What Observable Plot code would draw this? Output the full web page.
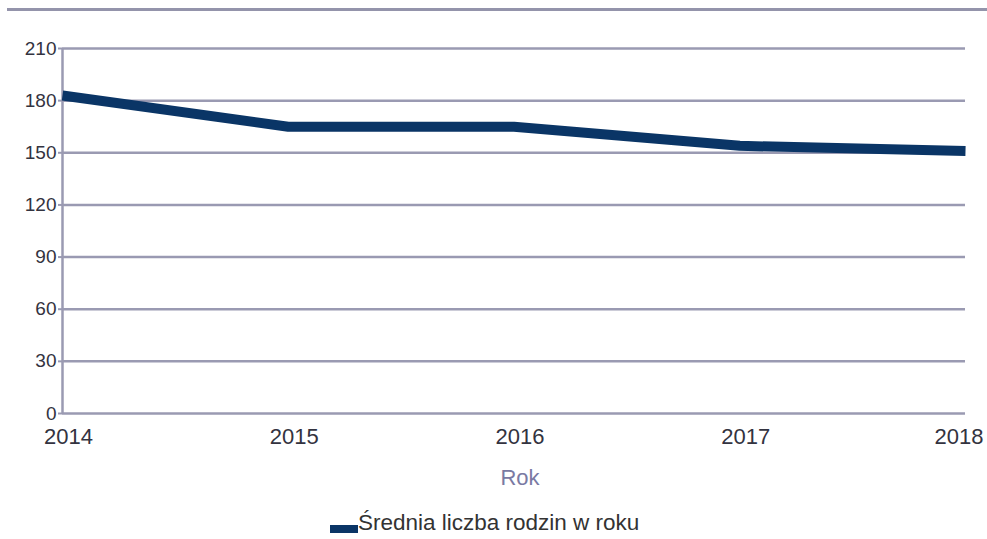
<!DOCTYPE html>
<html>
<head>
<meta charset="utf-8">
<script src="https://cdn.jsdelivr.net/npm/d3@7"></script>
<script src="https://cdn.jsdelivr.net/npm/@observablehq/plot@0.6"></script>
<style>
  html, body { margin: 0; padding: 0; background: #fff; }
  body { width: 987px; height: 539px; position: relative; overflow: hidden; font-family: "Liberation Sans", Arial, sans-serif; }
  #topline { position: absolute; left: 7px; top: 8px; width: 980px; height: 3px; background: #9494ab; }
  #chart { position: absolute; left: 0; top: 0; }
  #legend { position: absolute; left: 330px; top: 510px; font-size: 22.5px; color: #333; display: flex; align-items: flex-end; white-space: nowrap; }
  #legend .sw { width: 28px; height: 8px; background: #0a3566; margin-bottom: 3px; }
</style>
</head>
<body>
<div id="topline"></div>
<div id="chart"></div>
<div id="legend"><span class="sw"></span><span id="legtext"></span></div>
<script>
const years = [2014, 2015, 2016, 2017, 2018];
const values = [183, 165, 165, 154, 151];
const yTicks = [0, 30, 60, 90, 120, 150, 180, 210];
const seriesName = "Średnia liczba rodzin w roku";
const xAxisLabel = "Rok";

const data = years.map((y, i) => ({ year: y, value: values[i] }));
const gridColor = "#9a9ab2";
const textColor = "#333340";

const chart = Plot.plot({
  width: 987,
  height: 500,
  marginLeft: 62,
  marginRight: 22,
  marginTop: 48,
  marginBottom: 87,
  style: { fontFamily: "'Liberation Sans', Arial, sans-serif", background: "transparent", overflow: "visible" },
  x: { type: "linear", domain: [2014, 2018], axis: null },
  y: { domain: [0, 210] },
  marks: [
    Plot.ruleY(yTicks, { x1: 2014, x2: 2018, stroke: gridColor, strokeWidth: 2.5 }),
    Plot.ruleX([2014], { y1: 0, y2: 210, stroke: gridColor, strokeWidth: 2.5 }),
    Plot.axisY({ ticks: yTicks, tickSize: 4, tickPadding: 2, stroke: gridColor, strokeWidth: 2, fontSize: 19, fill: textColor, label: null, tickFormat: d => String(d) }),
    Plot.text(years.slice(0, -1), { x: d => d, frameAnchor: "bottom", dy: 30, dx: 6, fontSize: 22, fill: textColor, text: d => String(d) }),
    Plot.text(years.slice(-1), { x: d => d, frameAnchor: "bottom", dy: 30, dx: 18, textAnchor: "end", fontSize: 22, fill: textColor, text: d => String(d) }),
    Plot.line(data, { x: "year", y: "value", stroke: "#0a3566", strokeWidth: 10, strokeLinejoin: "miter", strokeLinecap: "butt" }),
    Plot.text([xAxisLabel], { frameAnchor: "bottom", dy: 71, dx: 6, fontSize: 22, fill: "#7a7aa3", text: d => d })
  ]
});
document.getElementById("chart").appendChild(chart);
document.getElementById("legtext").textContent = seriesName;
</script>
</body>
</html>
